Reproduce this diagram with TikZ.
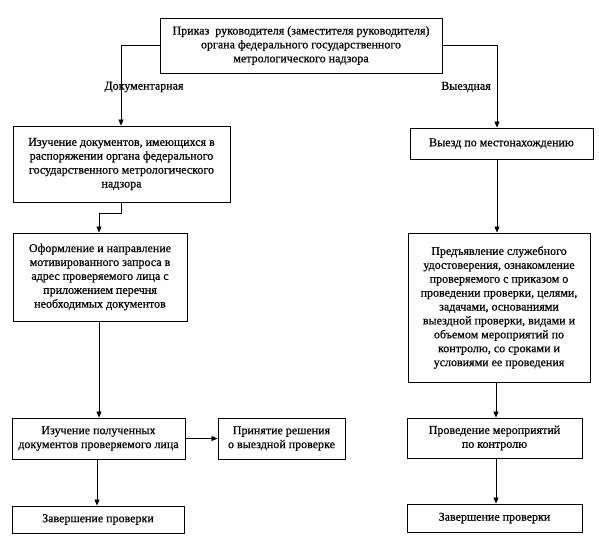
\documentclass[tikz,border=0pt]{standalone}
\usepackage{fontspec}
\setmainfont{Liberation Serif}[FakeBold=0.6]
\usetikzlibrary{arrows.meta}
\begin{document}
\begin{tikzpicture}[x=1pt,y=-1pt,
  box/.style={draw,line width=0.9pt,align=center,inner sep=1pt,font=\fontsize{12}{13.9}\selectfont},
  conn/.style={line width=0.8pt},
  arr/.style={conn,-{Triangle[width=5pt,length=6pt]}},
  lbl/.style={font=\fontsize{12}{13.9}\selectfont}]
\useasboundingbox (0,0) rectangle (599,555);
\node[box,minimum width=282,minimum height=55] (top) at (301,45.5)
  {Приказ\ \ руководителя (заместителя руководителя)\\органа федерального государственного\\метрологического надзора};
\node[box,minimum width=217,minimum height=76] (b2) at (121.5,164)
  {Изучение документов, имеющихся в\\распоряжении органа федерального\\государственного метрологического\\надзора};
\node[box,minimum width=174,minimum height=88] (b3) at (100,277)
  {Оформление и направление\\мотивированного запроса в\\адрес проверяемого лица с\\приложением перечня\\необходимых документов};
\node[box,minimum width=173,minimum height=41] (b5) at (98.5,438.5)
  {Изучение полученных\\документов проверяемого лица};
\node[box,minimum width=127,minimum height=41] (b6) at (281.5,438.5)
  {Принятие решения\\о выездной проверке};
\node[box,minimum width=172,minimum height=27] (b7) at (98,519.5)
  {Завершение проверки};
\node[box,minimum width=183,minimum height=31] (r1) at (501.5,143.5)
  {Выезд по местонахождению};
\node[box,minimum width=182,minimum height=149] (r2) at (499,307.5)
  {Предъявление служебного\\удостоверения, ознакомление\\проверяемого с приказом о\\проведении проверки, целями,\\задачами, основаниями\\выездной проверки, видами и\\объемом мероприятий по\\контролю, со сроками и\\условиями ее проведения};
\node[box,minimum width=175,minimum height=40] (r3) at (494.5,438)
  {Проведение мероприятий\\по контролю};
\node[box,minimum width=175,minimum height=28] (r4) at (494.5,518)
  {Завершение проверки};
\node[lbl] (ldoc) at (144,87) {Документарная};
\node[lbl] (lvyezd) at (466,87) {Выездная};
% connectors
\coordinate (tl) at (121,45.5);
\coordinate (tr) at (497,45.5);
\draw[arr] (top.west) -- (tl) -- (b2.north -| tl);
\draw[arr] (top.east) -- (tr) -- (r1.north -| tr);
\coordinate (k1) at (121,213);
\coordinate (k2) at (99,213);
\draw[arr] (b2.south -| k1) -- (k1) -- (k2) -- (b3.north -| k2);
\coordinate (c3) at (99,0);
\draw[arr] (b3.south -| c3) -- (b5.north -| c3);
\coordinate (c5) at (97,0);
\draw[arr] (b5.south -| c5) -- (b7.north -| c5);
\draw[arr] (b5.east) -- (b6.west);
\draw[arr] (r1.south -| tr) -- (r2.north -| tr);
\coordinate (cr) at (496,0);
\draw[arr] (r2.south -| cr) -- (r3.north -| cr);
\draw[arr] (r3.south -| cr) -- (r4.north -| cr);
\end{tikzpicture}
\end{document}
